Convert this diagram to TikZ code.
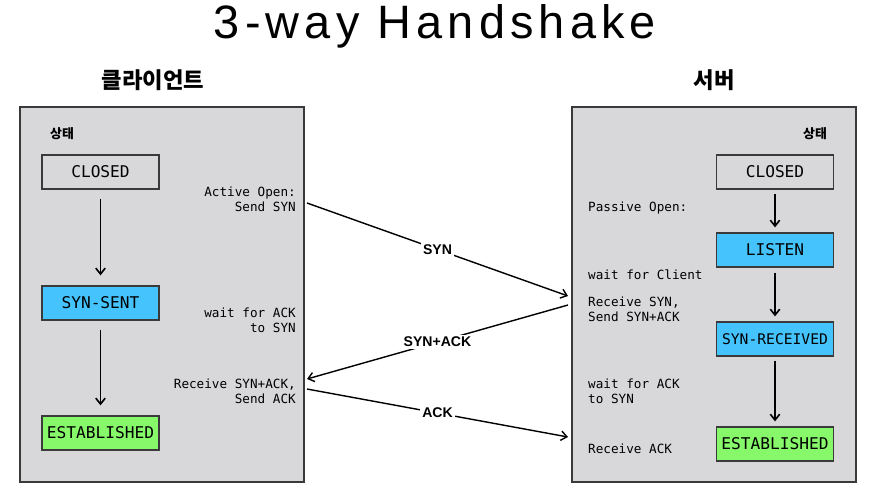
\documentclass[tikz,border=0pt]{standalone}
\usepackage{fontspec}
\setmainfont{Liberation Sans}
\setmonofont{DejaVu Sans Mono}
\newfontfamily\krfont{Noto Sans CJK KR}
\newfontfamily\titlefont[LetterSpace=11]{Liberation Sans}
\usepackage{tikz}
\usetikzlibrary{arrows.meta, positioning, calc}
\definecolor{panel-grey}{HTML}{D8D7DA}
\definecolor{edge-grey}{HTML}{3A3A3A}
\definecolor{state-blue}{HTML}{45C3FC}
\definecolor{state-green}{HTML}{86F86A}

\begin{document}
\begin{tikzpicture}[
  x=0.03cm, y=-0.03cm,
  panel/.style={rectangle, draw=edge-grey, line width=1pt, fill=panel-grey,
                minimum width=8.52cm, minimum height=11.25cm},
  state/.style={rectangle, draw=edge-grey, line width=1.1pt, fill=panel-grey,
                minimum width=3.51cm, minimum height=1.02cm, inner xsep=2pt,
                font=\ttfamily\fontsize{13.8}{15}\selectfont},
  note/.style={font=\ttfamily\fontsize{10.8}{12.8}\selectfont, inner sep=0pt},
  msg/.style={font=\bfseries\fontsize{12}{14}\selectfont, fill=white, inner sep=2pt},
  head/.style={font=\krfont\bfseries\fontsize{19}{22}\selectfont},
  tag/.style={font=\krfont\bfseries\fontsize{11}{13}\selectfont},
  sarr/.style={-{Straight Barb[length=5pt, width=8pt]}, line width=1.4pt},
  marr/.style={-{Straight Barb[length=5pt, width=8pt]}, line width=1.2pt}
]
  \useasboundingbox (0,0) rectangle (872,496);

  % Title and headings
  \node[font=\titlefont\fontsize{40}{44}\selectfont, anchor=base] (title) at (435,38) {3-way Handshake};
  \node[head] (clienthead) at (153,80) {클라이언트};
  \node[head] (serverhead) at (714,80) {서버};

  % Panels
  \node[panel] (client) at (162,294.5) {};
  \node[panel] (server) at (714,294.5) {};
  \node[tag] (ctag) at (62,134) {상태};
  \node[tag] (stag) at (815,134) {상태};

  % Client states
  \node[state] (cclosed) at (100.5,172) {CLOSED};
  \node[state, fill=state-blue] (csent) at (100.5,303) {SYN-SENT};
  \node[state, fill=state-green] (cest) at (100.5,433) {ESTABLISHED};
  \draw[sarr, shorten <=0.27cm, shorten >=0.3cm] (cclosed) -- (csent);
  \draw[sarr, shorten <=0.27cm, shorten >=0.3cm] (csent) -- (cest);

  % Server states
  \node[state] (sclosed) at (775,172) {CLOSED};
  \node[state, fill=state-blue] (slisten) at (775,250) {LISTEN};
  \node[state, fill=state-blue, font=\ttfamily\fontsize{12.5}{15}\selectfont] (srecv) at (775,339) {SYN-RECEIVED};
  \node[state, fill=state-green] (sest) at (775,444) {ESTABLISHED};
  \draw[sarr, shorten <=0.12cm, shorten >=0.15cm] (sclosed) -- (slisten);
  \draw[sarr, shorten <=0.15cm, shorten >=0.15cm] (slisten) -- (srecv);
  \draw[sarr, shorten <=0.12cm, shorten >=0.15cm] (srecv) -- (sest);

  % Client notes
  \node[note, align=right, anchor=east] (copen) at (296,199) {Active Open:\\Send SYN};
  \node[note, align=right, anchor=east] (cwait) at (296,320.5) {wait for ACK\\to SYN};
  \node[note, align=right, anchor=east] (crecv) at (296,391) {Receive SYN+ACK,\\Send ACK};

  % Server notes
  \node[note, align=left, anchor=west] (sopen) at (588,208) {Passive Open:};
  \node[note, align=left, anchor=west] (swait) at (588,275) {wait for Client};
  \node[note, align=left, anchor=west] (srecvsyn) at (588,309.5) {Receive SYN,\\Send SYN+ACK};
  \node[note, align=left, anchor=west] (swaitack) at (588,391.5) {wait for ACK\\to SYN};
  \node[note, align=left, anchor=west] (srecvack) at (588,449) {Receive ACK};

  % Message end points
  \coordinate (synout) at (307,203);
  \coordinate (synin) at (568,296);
  \coordinate (sackout) at (568,305);
  \coordinate (sackin) at (307,379);
  \coordinate (ackout) at (307,389);
  \coordinate (ackin) at (568,437);

  \draw[marr] (synout) -- node[msg, pos=0.5] (synlbl) {SYN} (synin);
  \draw[marr] (sackout) -- node[msg, pos=0.5] (sacklbl) {SYN+ACK} (sackin);
  \draw[marr] (ackout) -- node[msg, pos=0.5] (acklbl) {ACK} (ackin);

\end{tikzpicture}
\end{document}
